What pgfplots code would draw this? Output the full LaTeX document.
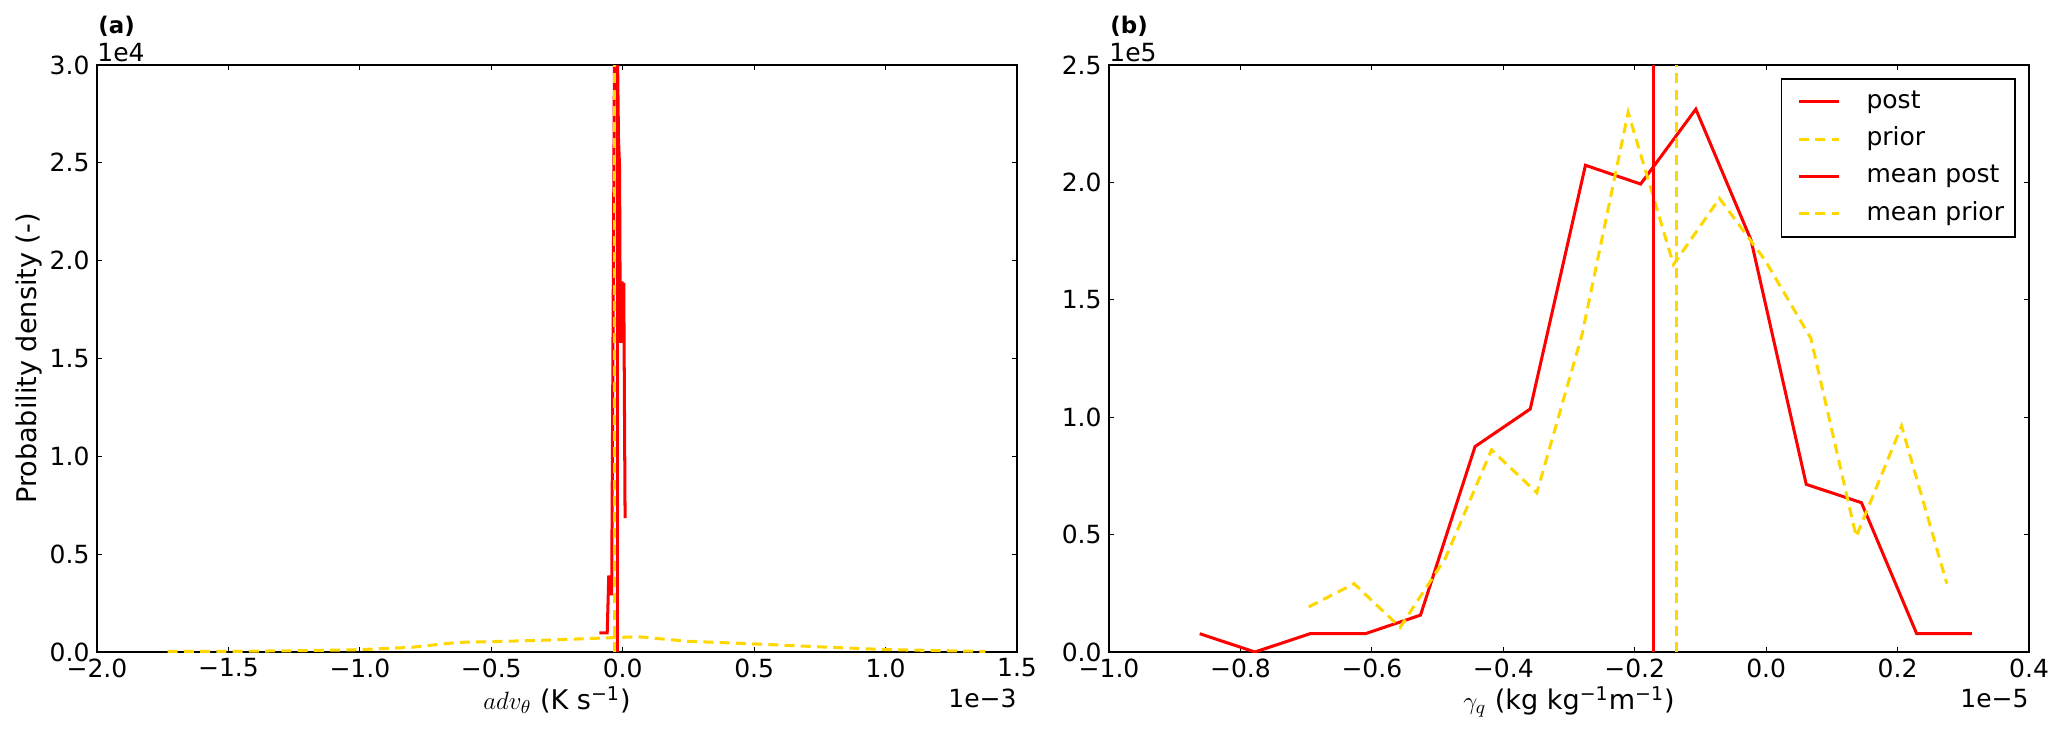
\documentclass[border=0pt]{standalone}
\usepackage{fontspec}
\setmainfont{DejaVu Sans}
\usepackage{pgfplots}
\pgfplotsset{compat=1.18}

\definecolor{mplred}{RGB}{255,0,0}
\definecolor{mplgold}{RGB}{255,215,0}

% 1 px of the reference = 0.48pt
\pgfplotsset{
  panel/.style={
    scale only axis, width=441.6pt, height=281.76pt,
    tick align=inside, major tick length=2.3pt,
    tick style={black, line width=0.5pt},
    axis line style={black, line width=0.9pt},
    xticklabel style={inner sep=0pt, anchor=north}, xticklabel shift=2.9pt,
    yticklabel style={inner sep=0pt, anchor=east}, yticklabel shift=3.4pt,
    label style={font=\fontsize{13}{15.6}\selectfont},
    xlabel style={at={(axis description cs:0.5,0)}, anchor=base, yshift=-27.5pt},
    ymin=0,
  },
  post/.style={mplred, line width=1.45pt},
  prior/.style={mplgold, line width=1.45pt, dash pattern=on 4.8pt off 3pt},
}

% panel (a): x in 1e-3 K/s, y in 1e4
\pgfplotstableread{
x y
-0.089 0.098
-0.059 0.098
-0.053 0.391
-0.048 0.297
-0.042 0.297
-0.030 3.400
-0.022 3.300
-0.016 2.620
-0.012 2.480
-0.009 1.580
-0.006 1.886
-0.002 1.886
0.001 1.580
0.004 1.886
0.009 0.684
}\postA
\pgfplotstableread{
x y
-1.731 0.003
-1.502 0.003
-1.218 0.007
-1.000 0.012
-0.803 0.024
-0.629 0.049
-0.498 0.053
-0.280 0.061
-0.105 0.070
0.059 0.078
0.245 0.055
0.507 0.041
0.790 0.024
1.009 0.012
1.380 0.003
}\priorA
% panel (b): x in 1e-5, y in 1e5
\pgfplotstableread{
x y
-0.862 0.078
-0.778 0.000
-0.694 0.078
-0.610 0.078
-0.526 0.157
-0.443 0.875
-0.359 1.035
-0.275 2.073
-0.191 1.993
-0.107 2.312
-0.023 1.754
0.061 0.714
0.145 0.636
0.229 0.078
0.313 0.078
}\postB
\pgfplotstableread{
x y
-0.696 0.192
-0.627 0.291
-0.557 0.105
-0.488 0.400
-0.418 0.861
-0.349 0.678
-0.280 1.354
-0.210 2.298
-0.141 1.650
-0.071 1.932
-0.002 1.670
0.068 1.336
0.137 0.491
0.206 0.962
0.275 0.291
}\priorB

\begin{document}
\begin{tikzpicture}[font=\fontsize{12}{14.4}\selectfont]
\path[use as bounding box] (-46.56pt,-41.28pt) rectangle (945.6pt,312.96pt);

\begin{axis}[panel, name=a,
    xmin=-2.0, xmax=1.5, ymax=3.0,
    xtick={-2.0,-1.5,-1.0,-0.5,0.0,0.5,1.0,1.5},
    xticklabels={−2.0,−1.5,−1.0,−0.5,0.0,0.5,1.0,1.5},
    ytick={0,0.5,1.0,1.5,2.0,2.5,3.0},
    yticklabels={0.0,0.5,1.0,1.5,2.0,2.5,3.0},
    xlabel={$adv_\theta$ (K s\textsuperscript{−1})},
    ylabel={Probability density (-)},
    ylabel style={at={(axis description cs:-0.0657,0.5)}, anchor=base},
]
\addplot[post] table {\postA};
\addplot[prior] table {\priorA};
\addplot[post] coordinates {(-0.019,0) (-0.019,3.0)};
\addplot[prior] coordinates {(-0.032,0) (-0.032,3.0)};
\end{axis}
\node[anchor=south west, inner sep=0pt] at ([yshift=1.4pt]a.north west) {1e4};
\node[anchor=base west, inner sep=0pt, font=\fontsize{11}{13}\selectfont\bfseries] at ([xshift=0.5pt,yshift=14.9pt]a.north west) {(a)};
\node[anchor=base east, inner sep=0pt] at ([yshift=-26.4pt]a.south east) {1e−3};

\begin{axis}[panel, name=b, at={(485.76pt,0pt)},
    xmin=-1.0, xmax=0.4, ymax=2.5,
    xtick={-1.0,-0.8,-0.6,-0.4,-0.2,0.0,0.2,0.4},
    xticklabels={−1.0,−0.8,−0.6,−0.4,−0.2,0.0,0.2,0.4},
    ytick={0,0.5,1.0,1.5,2.0,2.5},
    yticklabels={0.0,0.5,1.0,1.5,2.0,2.5},
    xlabel={$\gamma_q$ (kg kg\textsuperscript{−1}m\textsuperscript{−1})},
    legend style={at={(0.9859,0.978)}, anchor=north east,
      draw=black, line width=0.9pt, fill=white,
      inner xsep=5.3pt, inner ysep=5.4pt,
      nodes={inner sep=0pt, text height=8.7pt, text depth=2.5pt},
      row sep=6.7pt,
      /tikz/column 1/.style={column sep=12.5pt},
      font=\fontsize{12}{14.4}\selectfont},
    legend cell align=left,
    legend image code/.code={\path (-2.4pt,0pt); \draw[#1] (0pt,0pt) -- (19.2pt,0pt);},
]
\addplot[post] table {\postB};
\addlegendentry{post}
\addplot[prior] table {\priorB};
\addlegendentry{prior}
\addplot[post] coordinates {(-0.171,0) (-0.171,2.5)};
\addlegendentry{mean post}
\addplot[prior] coordinates {(-0.136,0) (-0.136,2.5)};
\addlegendentry{mean prior}
\end{axis}
\node[anchor=south west, inner sep=0pt] at ([yshift=1.4pt]b.north west) {1e5};
\node[anchor=base west, inner sep=0pt, font=\fontsize{11}{13}\selectfont\bfseries] at ([xshift=0.5pt,yshift=14.9pt]b.north west) {(b)};
\node[anchor=base east, inner sep=0pt] at ([yshift=-26.4pt]b.south east) {1e−5};
\end{tikzpicture}
\end{document}
